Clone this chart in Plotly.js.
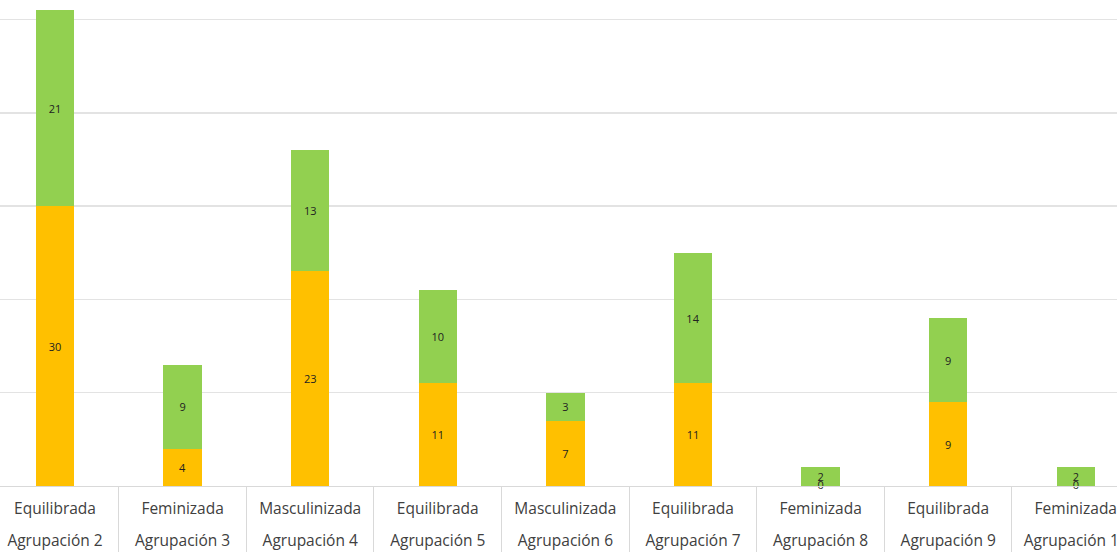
<!DOCTYPE html>
<html>
<head>
<meta charset="utf-8">
<script src="https://cdn.plot.ly/plotly-3.0.1.min.js"></script>
<style>html,body{margin:0;padding:0;background:#fff;}#chart{width:1117px;height:552px;}</style>
</head>
<body>
<div id="chart"></div>
<script>
var tipos = ["Equilibrada","Feminizada","Masculinizada","Equilibrada","Masculinizada","Equilibrada","Feminizada","Equilibrada","Feminizada"];
var agrupaciones = ["Agrupación 2","Agrupación 3","Agrupación 4","Agrupación 5","Agrupación 6","Agrupación 7","Agrupación 8","Agrupación 9","Agrupación 10"];
var serieNaranja = [30, 4, 23, 11, 7, 11, 0, 9, 0];
var serieVerde = [21, 9, 13, 10, 3, 14, 2, 9, 2];

var idx = agrupaciones.map(function(_, i){ return i; });
var divs = idx.slice(0, -1).map(function(i){ return i + 0.5; });
var labelFont = {family: 'Open Sans, sans-serif', size: 11, color: '#222'};
var common = {
  type: 'bar', x: agrupaciones, width: 0.3,
  textposition: 'inside', insidetextanchor: 'middle', constraintext: 'none', textangle: 0,
  textfont: labelFont, hoverinfo: 'skip', cliponaxis: false
};
var t1 = Object.assign({}, common, {y: serieNaranja, texttemplate: '%{y}', marker: {color: '#FFC000'}, name: 'A'});
var t2 = Object.assign({}, common, {y: serieVerde, texttemplate: '%{y}', marker: {color: '#92D050'}, name: 'B'});
// zero-valued orange segments still show their "0" label at the baseline
var zx = agrupaciones.filter(function(_, i){ return serieNaranja[i] === 0; });
var zy = serieNaranja.filter(function(v){ return v === 0; });
var t3 = {type: 'scatter', mode: 'text', x: zx, y: zy, text: zy.map(String), textposition: 'middle center',
  textfont: labelFont, hoverinfo: 'skip', cliponaxis: false, showlegend: false};

var R = [-0.431, 8.323];
var tickFont = {family: 'Open Sans, sans-serif', size: 15.5, color: '#404040'};
var layout = {
  width: 1117, height: 552,
  margin: {l: 0, r: 0, t: 0, b: 66},
  barmode: 'stack',
  showlegend: false,
  paper_bgcolor: '#fff', plot_bgcolor: '#fff',
  xaxis: {
    type: 'category', range: R,
    tickmode: 'array', tickvals: agrupaciones, ticktext: tipos,
    showline: true, linecolor: '#d9d9d9', linewidth: 1,
    showgrid: false, ticks: '', ticklabelstandoff: 8, ticklabeloverflow: 'allow',
    tickfont: tickFont
  },
  xaxis2: {
    type: 'linear', overlaying: 'x', anchor: 'y', side: 'bottom', range: R,
    tickmode: 'array', tickvals: idx, ticktext: agrupaciones,
    showgrid: false, zeroline: false, showline: false, ticks: '', ticklabelstandoff: 43,
    ticklabeloverflow: 'allow',
    tickfont: tickFont
  },
  xaxis3: {
    type: 'linear', overlaying: 'x', anchor: 'y', side: 'bottom', range: R,
    tickmode: 'array', tickvals: divs, showticklabels: false,
    showgrid: false, zeroline: false, showline: false,
    ticks: 'outside', ticklen: 66, tickwidth: 1, tickcolor: '#d9d9d9'
  },
  yaxis: {
    range: [0, 52.1], dtick: 10, showticklabels: false,
    gridcolor: '#e3e3e3', gridwidth: 1.5, zeroline: false, showline: false
  }
};
var helper2 = {type: 'scatter', mode: 'none', x: [R[0], R[1]], y: [0, 0], xaxis: 'x2', yaxis: 'y', hoverinfo: 'skip', showlegend: false};
var helper3 = {type: 'scatter', mode: 'none', x: [R[0], R[1]], y: [0, 0], xaxis: 'x3', yaxis: 'y', hoverinfo: 'skip', showlegend: false};
Plotly.newPlot('chart', [t1, t2, t3, helper2, helper3], layout, {displayModeBar: false, staticPlot: true});
</script>
</body>
</html>
